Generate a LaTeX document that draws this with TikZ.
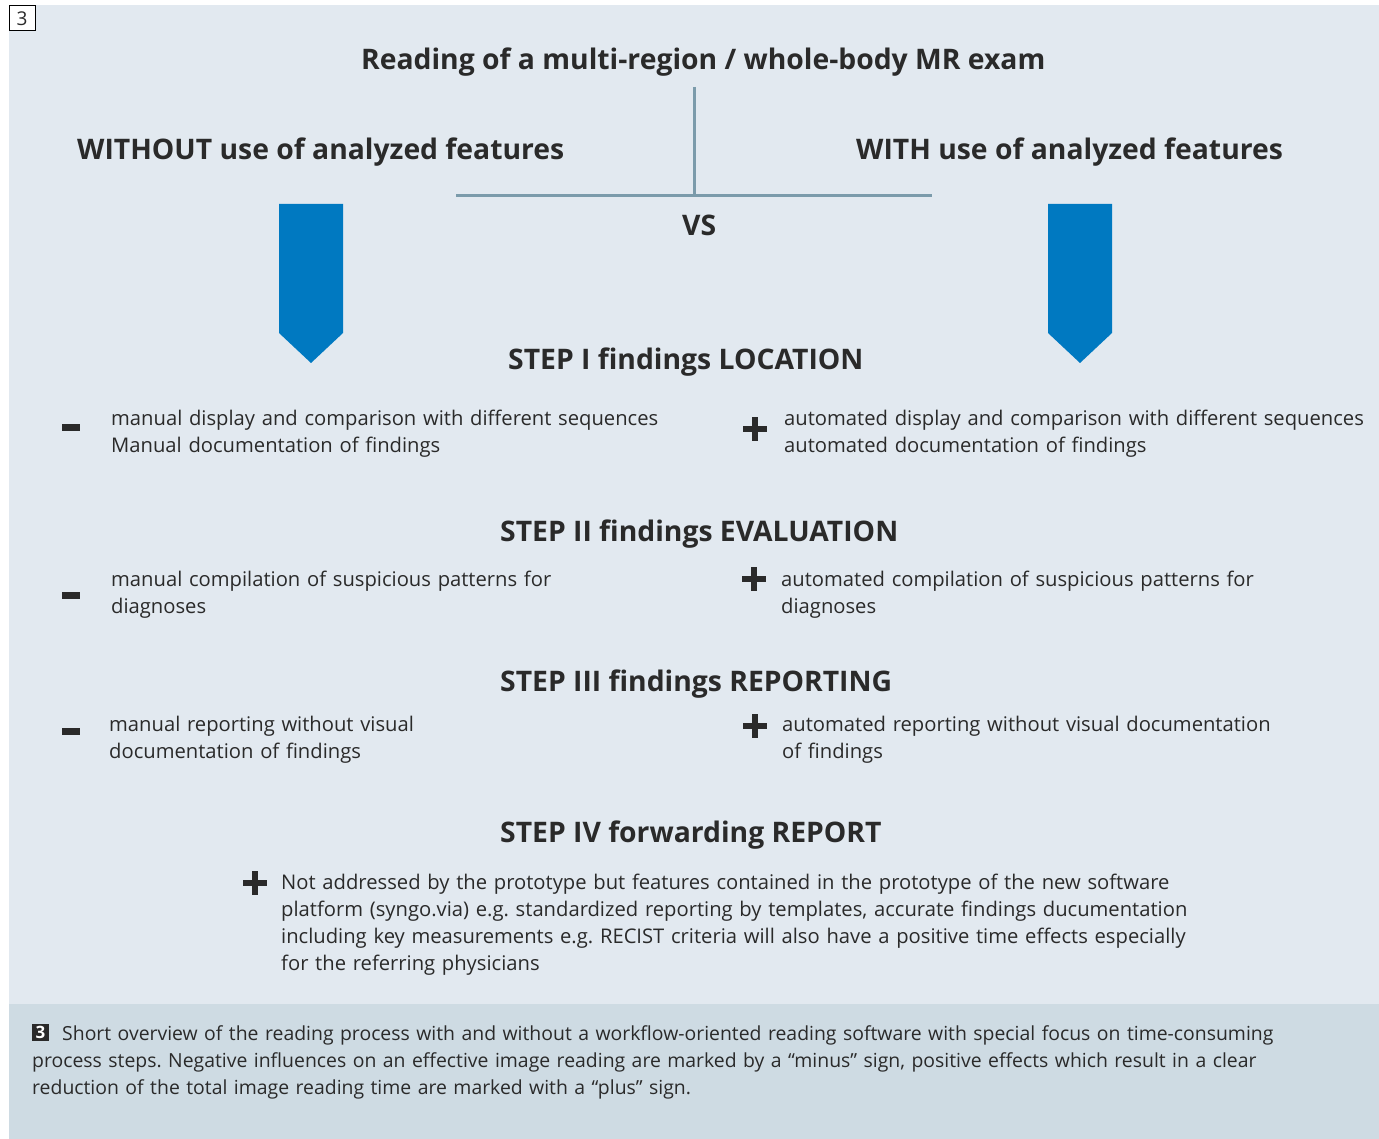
\documentclass[tikz,border=0pt]{standalone}
\usepackage{fontspec}
\setmainfont{Open Sans}
\definecolor{panel}{HTML}{E2E9F0}
\definecolor{capband}{HTML}{CEDBE3}
\definecolor{arrowblue}{HTML}{0079C1}
\definecolor{lineblue}{HTML}{7B9BAB}
\definecolor{txt}{HTML}{2A2A2A}
\begin{document}
\frenchspacing
\begin{tikzpicture}[x=1pt,y=-1pt,
  head/.style={font=\fontsize{28.3}{32}\selectfont\bfseries, text=txt, inner sep=0pt, anchor=base west},
  body/.style={font=\fontsize{20.2}{27}\selectfont, text=txt, inner sep=0pt, anchor=base west, align=left, text width=950pt},
  minussign/.style={fill=txt, minimum width=18pt, minimum height=7pt, inner sep=0pt},
  plussign/.style={minimum size=24pt, inner sep=0pt,
    path picture={\fill[txt] ([yshift=-3pt]path picture bounding box.west) rectangle ([yshift=3pt]path picture bounding box.east);
                  \fill[txt] ([xshift=-3pt]path picture bounding box.south) rectangle ([xshift=3pt]path picture bounding box.north);}},
  downarrow/.style={fill=arrowblue},
  tline/.style={draw=lineblue, line width=3pt}
]
\useasboundingbox (0,0) rectangle (1379,1139);
\fill[white] (0,0) rectangle (1379,1139);
\fill[panel] (9,5) rectangle (1379,1004);
\fill[capband] (9,1004) rectangle (1379,1139);

% figure number box
\node[draw=black, line width=1pt, fill=white, minimum width=26pt, minimum height=25pt, inner sep=0pt,
      font=\fontsize{19}{22}\selectfont, text=txt] (num) at (22,18.5) {3};

% titles
\node[head] (title) at (361,70) {Reading of a multi-region / whole-body MR exam};
\node[head] (without) at (77,160) {WITHOUT use of analyzed features};
\node[head] (with) at (856,160) {WITH use of analyzed features};
\node[head] (vs) at (682,236) {VS};

% T connector
\coordinate (ttop) at (694,87);
\coordinate (tjoin) at (694,196);
\coordinate (tleft) at (456,196);
\coordinate (tright) at (932,196);
\draw[tline] (ttop) -- (tjoin);
\draw[tline] (tleft) -- (tright);

% blue arrows
\fill[downarrow] (279,204) -- (343,204) -- (343,333) -- (311,363) -- (279,333) -- cycle;
\fill[downarrow] (1048,204) -- (1112,204) -- (1112,333) -- (1080,363) -- (1048,333) -- cycle;

% STEP I
\node[head] (s1) at (508,370) {STEP I findings LOCATION};
\node[minussign] (m1) at (71,427.5) {};
\node[body] (l1) at (111,425) {manual display and comparison with different sequences\\Manual documentation of findings};
\node[plussign] (p1) at (755,429) {};
\node[body] (r1) at (784,425) {automated display and comparison with different sequences\\automated documentation of findings};

% STEP II
\node[head] (s2) at (500,541) {STEP II findings EVALUATION};
\node[minussign] (m2) at (71,595) {};
\node[body] (l2) at (111,586) {manual compilation of suspicious patterns for\\diagnoses};
\node[plussign] (p2) at (754,579) {};
\node[body] (r2) at (781,586) {automated compilation of suspicious patterns for\\diagnoses};

% STEP III
\node[head] (s3) at (500,691) {STEP III findings REPORTING};
\node[minussign] (m3) at (71,731) {};
\node[body] (l3) at (109,731) {manual reporting without visual\\documentation of findings};
\node[plussign] (p3) at (755,726) {};
\node[body] (r3) at (782,731) {automated reporting without visual documentation\\of findings};

% STEP IV
\node[head] (s4) at (500,842) {STEP IV forwarding REPORT};
\node[plussign] (p4) at (255,883) {};
\node[body] (r4) at (281,889) {Not addressed by the prototype but features contained in the prototype of the new software\\platform (syngo.via) e.g. standardized reporting by templates, accurate findings ducumentation\\including key measurements e.g. RECIST criteria will also have a positive time effects especially\\for the referring physicians};

% caption
\node[fill=txt, text=white, font=\fontsize{17}{20}\selectfont\bfseries, minimum size=17pt, inner sep=0pt] (capnum) at (40.5,1032.5) {3};
\node[body, font=\fontsize{19.4}{27}\selectfont, text width=1320pt] (caption) at (32,1040) {\hspace*{30pt}Short overview of the reading process with and without a workflow-oriented reading software with special focus on time-consuming\\process steps. Negative influences on an effective image reading are marked by a “minus” sign, positive effects which result in a clear\\reduction of the total image reading time are marked with a “plus” sign.};
\end{tikzpicture}
\end{document}
